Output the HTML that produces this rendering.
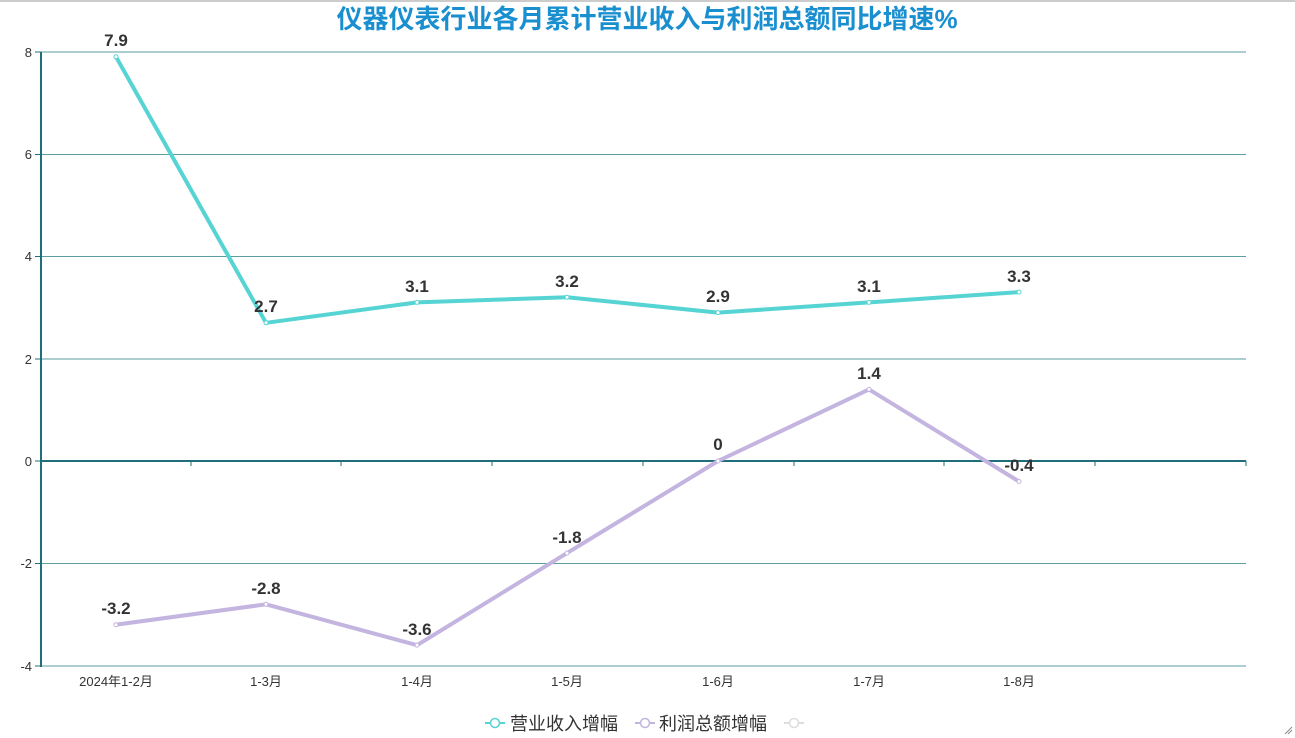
<!DOCTYPE html>
<html><head><meta charset="utf-8"><style>
body{margin:0;background:#fff;width:1295px;height:738px;overflow:hidden}
svg{display:block;font-family:"Liberation Sans","Noto Sans CJK SC",sans-serif}
</style></head><body>
<svg width="1295" height="738" xmlns="http://www.w3.org/2000/svg">
<line x1="0" y1="1" x2="1295" y2="1" stroke="#ccc" stroke-width="2"/>
<text x="647" y="28" text-anchor="middle" font-size="26" font-weight="bold" fill="#1a8fd0" font-family="'Liberation Sans','Noto Sans CJK SC',sans-serif">仪器仪表行业各月累计营业收入与利润总额同比增速%</text>
<g stroke="#5a9ea0" stroke-width="1">
<line x1="40" y1="52" x2="1246" y2="52"/>
<line x1="40" y1="154.5" x2="1246" y2="154.5"/>
<line x1="40" y1="256.5" x2="1246" y2="256.5"/>
<line x1="40" y1="359" x2="1246" y2="359"/>
<line x1="40" y1="563.5" x2="1246" y2="563.5"/>
<line x1="40" y1="666" x2="1246" y2="666"/>
</g>
<line x1="40" y1="461" x2="1246" y2="461" stroke="#1f6f7a" stroke-width="2"/>
<line x1="41" y1="52" x2="41" y2="667" stroke="#1f6f7a" stroke-width="2"/>
<g stroke="#1f6f7a" stroke-width="1">
<line x1="35" y1="52" x2="41" y2="52"/><line x1="35" y1="154.5" x2="41" y2="154.5"/><line x1="35" y1="256.5" x2="41" y2="256.5"/><line x1="35" y1="359" x2="41" y2="359"/><line x1="35" y1="461" x2="41" y2="461"/><line x1="35" y1="563.5" x2="41" y2="563.5"/><line x1="35" y1="666" x2="41" y2="666"/>
<line x1="191" y1="461" x2="191" y2="466"/><line x1="341" y1="461" x2="341" y2="466"/><line x1="492" y1="461" x2="492" y2="466"/><line x1="643" y1="461" x2="643" y2="466"/><line x1="794" y1="461" x2="794" y2="466"/><line x1="944" y1="461" x2="944" y2="466"/><line x1="1095" y1="461" x2="1095" y2="466"/><line x1="1246" y1="461" x2="1246" y2="466"/>
</g>
<g font-size="13" fill="#333" text-anchor="end">
<text x="32" y="57">8</text><text x="32" y="159">6</text><text x="32" y="261">4</text><text x="32" y="364">2</text><text x="32" y="466">0</text><text x="32" y="568">-2</text><text x="32" y="671">-4</text>
</g>
<g font-size="13" fill="#333" text-anchor="middle">
<text x="116" y="686">2024年1-2月</text><text x="266" y="686">1-3月</text><text x="417" y="686">1-4月</text><text x="567" y="686">1-5月</text><text x="718" y="686">1-6月</text><text x="869" y="686">1-7月</text><text x="1019" y="686">1-8月</text>
</g>
<polyline fill="none" stroke="#56d3d3" stroke-width="4" stroke-linejoin="round" points="116,56.8 266,322.8 417,302.4 567,297.3 718,312.6 869,302.4 1019,292.1"/>
<polyline fill="none" stroke="#c3b4e0" stroke-width="4" stroke-linejoin="round" points="116,624.7 266,604.3 417,645.2 567,553.1 718,461 869,389.4 1019,481.5"/>
<g fill="#fff" stroke="#56d3d3" stroke-width="1">
<circle cx="116" cy="56.8" r="2"/><circle cx="266" cy="322.8" r="2"/><circle cx="417" cy="302.4" r="2"/><circle cx="567" cy="297.3" r="2"/><circle cx="718" cy="312.6" r="2"/><circle cx="869" cy="302.4" r="2"/><circle cx="1019" cy="292.1" r="2"/>
</g>
<g fill="#fff" stroke="#c3b4e0" stroke-width="1">
<circle cx="116" cy="624.7" r="2"/><circle cx="266" cy="604.3" r="2"/><circle cx="417" cy="645.2" r="2"/><circle cx="567" cy="553.1" r="2"/><circle cx="718" cy="461" r="2"/><circle cx="869" cy="389.4" r="2"/><circle cx="1019" cy="481.5" r="2"/>
</g>
<g font-size="17" font-weight="bold" fill="#333" text-anchor="middle">
<text x="116" y="46">7.9</text><text x="266" y="312">2.7</text><text x="417" y="292">3.1</text><text x="567" y="287">3.2</text><text x="718" y="302">2.9</text><text x="869" y="292">3.1</text><text x="1019" y="282">3.3</text>
<text x="116" y="614">-3.2</text><text x="266" y="594">-2.8</text><text x="417" y="635">-3.6</text><text x="567" y="543">-1.8</text><text x="718" y="450">0</text><text x="869" y="379">1.4</text><text x="1019" y="471">-0.4</text>
</g>
<g font-size="18" fill="#333">
<line x1="485" y1="723" x2="505" y2="723" stroke="#56d3d3" stroke-width="2"/><circle cx="495" cy="723" r="4.5" fill="#fff" stroke="#56d3d3" stroke-width="1.5"/>
<text x="510" y="730">营业收入增幅</text>
<line x1="635" y1="723" x2="655" y2="723" stroke="#c3b4e0" stroke-width="2"/><circle cx="645" cy="723" r="4.5" fill="#fff" stroke="#c3b4e0" stroke-width="1.5"/>
<text x="659" y="730">利润总额增幅</text>
<line x1="784" y1="723" x2="804" y2="723" stroke="#ddd" stroke-width="2"/><circle cx="794" cy="723" r="4.5" fill="#fff" stroke="#ddd" stroke-width="1.5"/>
</g>
<g stroke="#888" stroke-width="1"><line x1="1285" y1="734" x2="1292" y2="727"/><line x1="1288" y1="734" x2="1292" y2="730"/></g>
</svg>
</body></html>
